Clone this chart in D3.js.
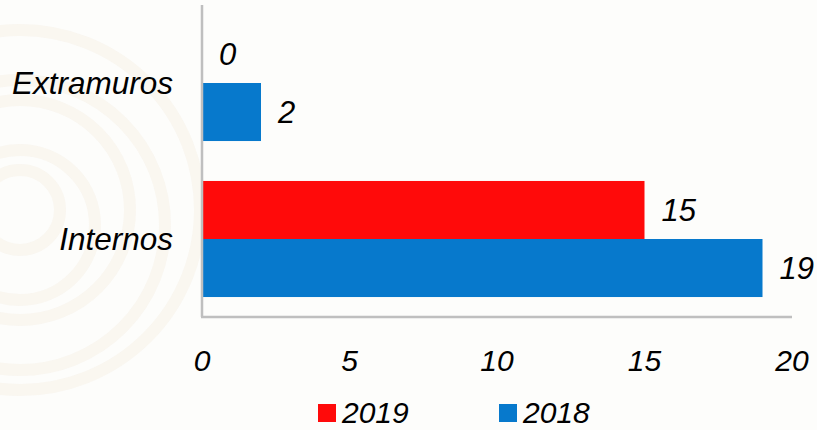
<!DOCTYPE html>
<html>
<head>
<meta charset="utf-8">
<script src="https://d3js.org/d3.v7.min.js"></script>
<style>
  body { margin: 0; background: #fdfdfb; }
  svg { display: block; }
</style>
</head>
<body>
<div id="chart"></div>
<script>
(() => {
    // Data
    const categories = ["Extramuros", "Internos"];
    const seriesNames = ["2019", "2018"];
    const values2019 = [0, 15];
    const values2018 = [2, 19];
    const xTicks = [0, 5, 10, 15, 20];

    const colors = { "2019": "#ff0a0a", "2018": "#0779cc" };
    const font = "'Liberation Sans', Arial, sans-serif";

    const width = 817, height = 430;
    const margin = { top: 5, right: 25, bottom: 113, left: 202 };

    const svg = d3.select("#chart").append("svg")
        .attr("width", width)
        .attr("height", height);

    // very faint watermark on the left
    const wm = svg.append("g").attr("fill", "none").attr("stroke", "#f3ecdc");
    [40, 75, 110, 145, 180].forEach((r, i) => {
        wm.append("circle")
            .attr("cx", 20).attr("cy", 210 + (i % 2) * 15)
            .attr("r", r)
            .attr("stroke-width", 12)
            .attr("opacity", 0.35);
    });

    const x = d3.scaleLinear()
        .domain([0, 20])
        .range([margin.left, margin.left + 590]);

    const y = d3.scaleBand()
        .domain(categories)
        .range([margin.top, height - margin.bottom])
        .paddingInner(0.256)
        .paddingOuter(0.128);

    const ySub = d3.scaleBand()
        .domain(seriesNames)
        .range([0, y.bandwidth()]);

    const rows = categories.map((c, i) => ({
        category: c,
        values: [
            { name: "2019", value: values2019[i] },
            { name: "2018", value: values2018[i] }
        ]
    }));

    const g = svg.selectAll(".cat")
        .data(rows)
        .enter().append("g")
        .attr("class", "cat")
        .attr("transform", d => `translate(0,${y(d.category)})`);

    g.selectAll("rect")
        .data(d => d.values)
        .enter().append("rect")
        .attr("x", x(0))
        .attr("y", d => ySub(d.name))
        .attr("width", d => x(d.value) - x(0))
        .attr("height", ySub.bandwidth())
        .attr("fill", d => colors[d.name]);

    g.selectAll(".val")
        .data(d => d.values)
        .enter().append("text")
        .attr("class", "val")
        .attr("x", d => x(d.value) + 17)
        .attr("y", d => ySub(d.name) + ySub.bandwidth() / 2)
        .attr("dy", "0.35em")
        .style("font", `italic 31px ${font}`)
        .attr("fill", "#000")
        .text(d => d.value);

    // axes lines
    const y0 = height - margin.bottom;
    svg.append("line")
        .attr("x1", x(0)).attr("x2", x(0))
        .attr("y1", margin.top).attr("y2", y0)
        .attr("stroke", "#bfbfbf").attr("stroke-width", 2.5);
    svg.append("line")
        .attr("x1", x(0) - 1).attr("x2", x(20))
        .attr("y1", y0).attr("y2", y0)
        .attr("stroke", "#bfbfbf").attr("stroke-width", 2.5);

    // category labels
    svg.selectAll(".cat-label")
        .data(categories)
        .enter().append("text")
        .attr("class", "cat-label")
        .attr("x", x(0) - 29)
        .attr("y", d => y(d) + y.bandwidth() / 2)
        .attr("dy", "0.35em")
        .attr("text-anchor", "end")
        .style("font", `italic 31.5px ${font}`)
        .text(d => d);

    // x tick labels
    svg.selectAll(".xtick")
        .data(xTicks)
        .enter().append("text")
        .attr("class", "xtick")
        .attr("x", d => x(d))
        .attr("y", 360)
        .attr("dy", "0.35em")
        .attr("text-anchor", "middle")
        .style("font", `italic 30px ${font}`)
        .text(d => d);

    // legend
    const legendX = [318, 499];
    const lg = svg.selectAll(".legend")
        .data(seriesNames)
        .enter().append("g")
        .attr("class", "legend")
        .attr("transform", (d, i) => `translate(${legendX[i]},404)`);
    lg.append("rect")
        .attr("width", 18).attr("height", 18)
        .attr("fill", d => colors[d]);
    lg.append("text")
        .attr("x", 24).attr("y", 19)
        .style("font", `italic 30px ${font}`)
        .text(d => d);
})();
</script>
</body>
</html>
